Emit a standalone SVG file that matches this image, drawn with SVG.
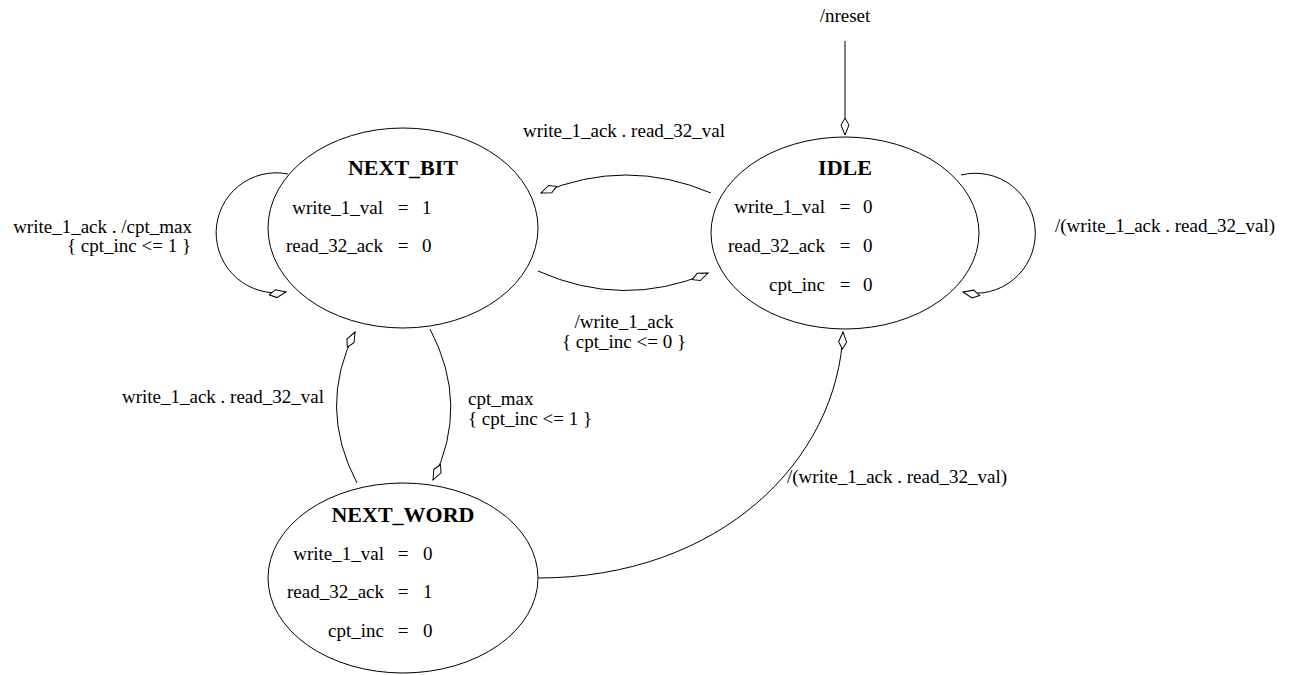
<svg xmlns="http://www.w3.org/2000/svg" width="1295" height="675" viewBox="0 0 1295 675">
<style>
text{font-family:"Liberation Serif","Times New Roman",serif;font-size:19px;fill:#000}
.t{font-weight:bold;font-size:22px;text-anchor:middle}
.n{text-anchor:end}
.e{text-anchor:middle}
.m{text-anchor:middle}
.st{fill:#fff;stroke:#000;stroke-width:1}
.c{fill:none;stroke:#000;stroke-width:1;marker-end:url(#ah)}
</style>
<defs>
<marker id="ah" markerUnits="userSpaceOnUse" viewBox="-18 -5 19 10" markerWidth="19" markerHeight="10" refX="0" refY="0" orient="auto">
<path d="M0,0 L-10,-4 L-17,0 L-10,4 Z" fill="#fff" stroke="#000" stroke-width="1"/>
</marker>
</defs>
<rect width="1295" height="675" fill="#fff"/>
<g id="connectors">
<text x="845" y="22" class="m">/nreset</text>
<path class="c" d="M845,41 L845,135"/>
<path class="c" d="M711,193 Q626,157 541,193"/>
<text x="624" y="137" class="m">write_1_ack . read_32_val</text>
<path class="c" d="M538,271 Q623,309 708,273"/>
<text x="624" y="328" class="m">/write_1_ack</text>
<text x="624" y="348" class="m">{ cpt_inc &lt;= 0 }</text>
<path class="c" d="M288,174 A60,60 0 1,0 286,292"/>
<text x="192" y="233" class="n">write_1_ack . /cpt_max</text>
<text x="191" y="252" class="n">{ cpt_inc &lt;= 1 }</text>
<path class="c" d="M961,175 A60,60 0 1,1 963,292"/>
<text x="1055" y="232">/(write_1_ack . read_32_val)</text>
<path class="c" d="M430,329 Q470,405 433,480"/>
<text x="468" y="405">cpt_max</text>
<text x="468" y="425">{ cpt_inc &lt;= 1 }</text>
<path class="c" d="M357,483 Q317,407 355,332"/>
<text x="324" y="403" class="n">write_1_ack . read_32_val</text>
<path class="c" d="M538,578 C720,578 838,460 843,332"/>
<text x="787" y="483">/(write_1_ack . read_32_val)</text>
</g>
<g id="NEXT_BIT">
<ellipse class="st" cx="403" cy="228" rx="135" ry="100"/>
<text x="403" y="175" class="t">NEXT_BIT</text>
<text x="383" y="214" class="n">write_1_val</text><text x="403" y="214" class="e">=</text><text x="422" y="214">1</text>
<text x="383" y="252" class="n">read_32_ack</text><text x="403" y="252" class="e">=</text><text x="422" y="252">0</text>
</g>
<g id="IDLE">
<ellipse class="st" cx="845" cy="233" rx="134" ry="96"/>
<text x="845" y="175" class="t">IDLE</text>
<text x="825" y="213" class="n">write_1_val</text><text x="845" y="213" class="e">=</text><text x="863" y="213">0</text>
<text x="825" y="252" class="n">read_32_ack</text><text x="845" y="252" class="e">=</text><text x="863" y="252">0</text>
<text x="825" y="291" class="n">cpt_inc</text><text x="845" y="291" class="e">=</text><text x="863" y="291">0</text>
</g>
<g id="NEXT_WORD">
<ellipse class="st" cx="403" cy="578" rx="135" ry="95"/>
<text x="403" y="522" class="t">NEXT_WORD</text>
<text x="384" y="560" class="n">write_1_val</text><text x="403" y="560" class="e">=</text><text x="423" y="560">0</text>
<text x="384" y="598" class="n">read_32_ack</text><text x="403" y="598" class="e">=</text><text x="423" y="598">1</text>
<text x="384" y="637" class="n">cpt_inc</text><text x="403" y="637" class="e">=</text><text x="423" y="637">0</text>
</g>
</svg>
